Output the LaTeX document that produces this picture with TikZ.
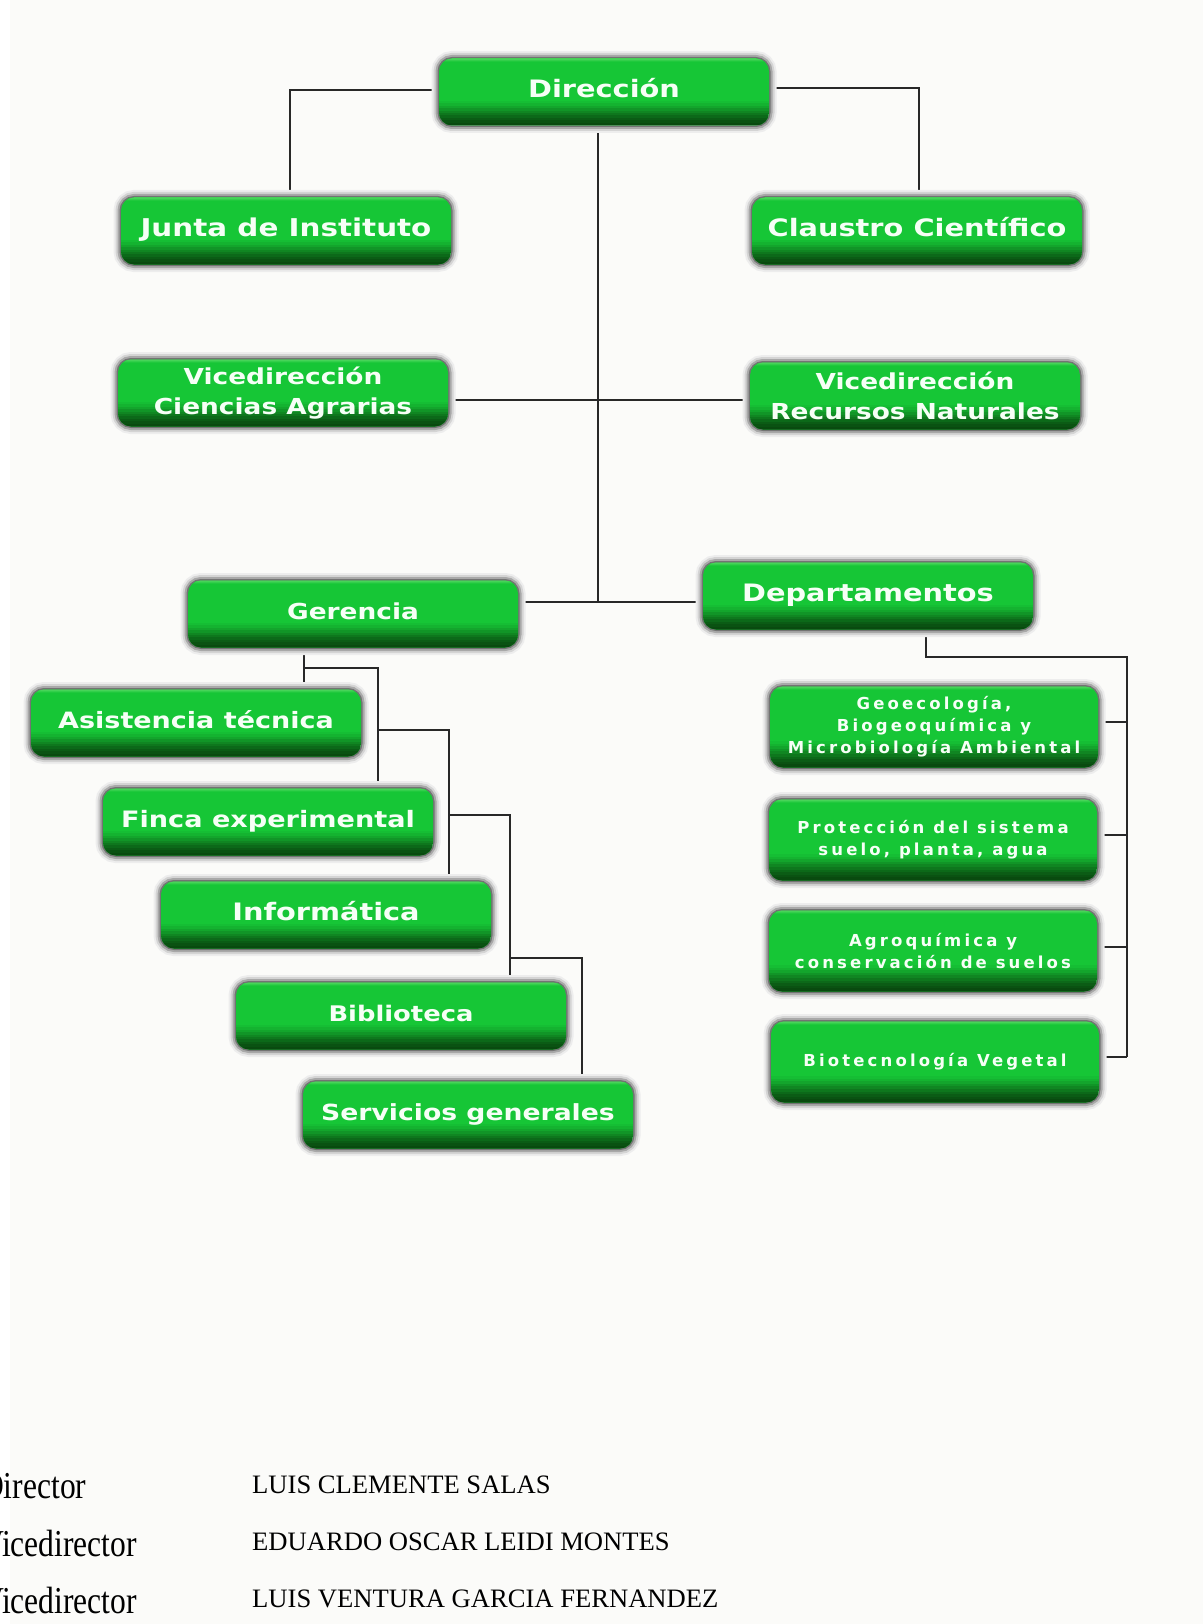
\documentclass[tikz,border=0pt]{standalone}
\usepackage{fontspec}
\newfontfamily\boxfont{DejaVu Sans}[FakeStretch=1.2]
\newfontfamily\depfont{DejaVu Sans}[LetterSpace=19]
\newfontfamily\lblfont{Liberation Serif}[FakeStretch=0.83]
\newfontfamily\namefont{Liberation Serif}
\usetikzlibrary{calc}
\definecolor{boxgreen}{RGB}{22,198,54}
\definecolor{boxdark}{RGB}{9,70,14}
\definecolor{boxlight}{RGB}{80,215,95}
\definecolor{textwhite}{RGB}{246,255,246}
\definecolor{linegray}{RGB}{40,40,40}
\definecolor{pagebg}{RGB}{251,251,249}
\pgfdeclarelayer{bgl}
\pgfdeclarelayer{lines}
\pgfsetlayers{bgl,lines,main}
\newcommand{\gbband}[1]{%
  \foreach \p [count=\k] in {94,85,74,62,50,38,27,17,9,3} {%
    \fill[sharp corners, boxgreen!\p!boxdark]
      ([yshift={#1*(11-\k)/10+0.5}]path picture bounding box.south west) rectangle
      ([yshift={#1*(10-\k)/10}]path picture bounding box.south east);
  }%
  \fill[sharp corners, top color=boxlight, bottom color=boxgreen]
    (path picture bounding box.north west) rectangle ([yshift=-3pt]path picture bounding box.north east);
}
\tikzset{
  halo/.style={
    preaction={draw=black!7, line width=15pt},
    preaction={draw=black!17, line width=11pt},
    preaction={draw=black!34, line width=7pt},
    preaction={draw=black!55, line width=3pt}},
  boxbase/.style={rounded corners=13pt, inner sep=0pt, text=textwhite, align=center,
    fill=boxgreen, halo, path picture={\gbband{#1}}},
  gbox/.style={boxbase=24, minimum width=330pt, minimum height=67pt},
  oneline/.style={text height=17pt, text depth=6pt},
  dbox/.style={boxbase=26, minimum width=328pt, minimum height=81pt,
    font=\depfont\bfseries\fontsize{16.5}{22}\selectfont},
  bxf/.style={font=\boxfont\bfseries\fontsize{#1}{30}\selectfont},
  conn/.style={draw=linegray, line width=1.5pt},
  lbl/.style={anchor=base west, inner sep=0pt, font=\lblfont\fontsize{38}{40}\selectfont},
  nme/.style={anchor=base west, inner sep=0pt, font=\namefont\fontsize{26.6}{30}\selectfont},
}
\begin{document}
\begin{tikzpicture}[x=1pt,y=-1pt]
\useasboundingbox (0,0) rectangle (1203,1624);
\begin{pgfonlayer}{bgl}
  \fill[white] (0,0) rectangle (1203,1624);
  \fill[pagebg] (10,0) rectangle (1203,1624);
\end{pgfonlayer}

% boxes
\node[gbox, oneline, bxf=24]   (dir)      at (604,92)   {Dirección};
\node[gbox, oneline, bxf=24.5] (junta)    at (286,231)  {Junta de Instituto};
\node[gbox, oneline, bxf=24]   (claustro) at (917,231)  {Claustro Científico};
\node[gbox, bxf=22]            (vca)      at (283,393)  {Vicedirección\\Ciencias Agrarias};
\node[gbox, bxf=22]            (vrn)      at (915,396)  {Vicedirección\\Recursos Naturales};
\node[gbox, oneline, bxf=22]   (ger)      at (353,614)  {Gerencia};
\node[gbox, oneline, bxf=24]   (dep)      at (868,596)  {Departamentos};
\node[gbox, oneline, bxf=22.5] (asis)     at (196,723)  {Asistencia técnica};
\node[gbox, oneline, bxf=22.6] (finca)    at (268,822)  {Finca experimental};
\node[gbox, oneline, bxf=24]   (info)     at (326,915)  {Informática};
\node[gbox, oneline, bxf=21.5] (bib)      at (401,1016) {Biblioteca};
\node[gbox, oneline, bxf=22.2] (serv)     at (468,1115) {Servicios generales};
\node[dbox] (geo)  at (934,727)  {Geoecología,\\Biogeoquímica y\\Microbiología Ambiental};
\node[dbox] (prot) at (933,840)  {Protección del sistema\\suelo, planta, agua};
\node[dbox] (agro) at (933,951)  {Agroquímica y\\conservación de suelos};
\node[dbox] (bio)  at (935,1062) {Biotecnología Vegetal};

% connectors
\coordinate (hub) at (598,602);
\coordinate (hv)  at (598,400);
\coordinate (g1) at (304,668);
\coordinate (g2) at (378,730);
\coordinate (g3) at (449,815);
\coordinate (g4) at (510,958);
\coordinate (d1) at (1127,657);
\begin{pgfonlayer}{lines}
  \draw[conn] ([yshift=2pt]dir.west) -| ([xshift=4pt]junta.north);
  \draw[conn] ([yshift=4pt]dir.east) -| ([xshift=2pt]claustro.north);
  \draw[conn] ([xshift=-6pt]dir.south) -- (hub);
  \draw[conn] (vca.east |- hv) -- (vrn.west |- hv);
  \draw[conn] (ger.east |- hub) -- (dep.west |- hub);
  \draw[conn] (ger.south -| g1) -- (asis.north -| g1);
  \draw[conn] (g1) -| (finca.north -| g2);
  \draw[conn] (g2) -| (info.north -| g3);
  \draw[conn] (g3) -| (bib.north -| g4);
  \draw[conn] (g4) -| ([xshift=114pt]serv.north);
  \draw[conn] ([xshift=58pt]dep.south) |- (d1) -- ($(bio.east -| d1)+(0,-5)$);
  \draw[conn] ($(geo.east)+(0,-5)$)  -- ($(geo.east -| d1)+(0,-5)$);
  \draw[conn] ($(prot.east)+(0,-5)$) -- ($(prot.east -| d1)+(0,-5)$);
  \draw[conn] ($(agro.east)+(0,-4)$) -- ($(agro.east -| d1)+(0,-4)$);
  \draw[conn] ($(bio.east)+(0,-5)$)  -- ($(bio.east -| d1)+(0,-5)$);
\end{pgfonlayer}

% staff list
\node[lbl] (l1) at (-19,1498) {Director};
\node[lbl] (l2) at (-19,1556) {Vicedirector};
\node[lbl] (l3) at (-19,1613) {Vicedirector};
\node[nme] (n1) at (252,1493) {LUIS CLEMENTE SALAS};
\node[nme] (n2) at (252,1550) {EDUARDO OSCAR LEIDI MONTES};
\node[nme] (n3) at (252,1607) {LUIS VENTURA GARCIA FERNANDEZ};
\end{tikzpicture}
\end{document}
